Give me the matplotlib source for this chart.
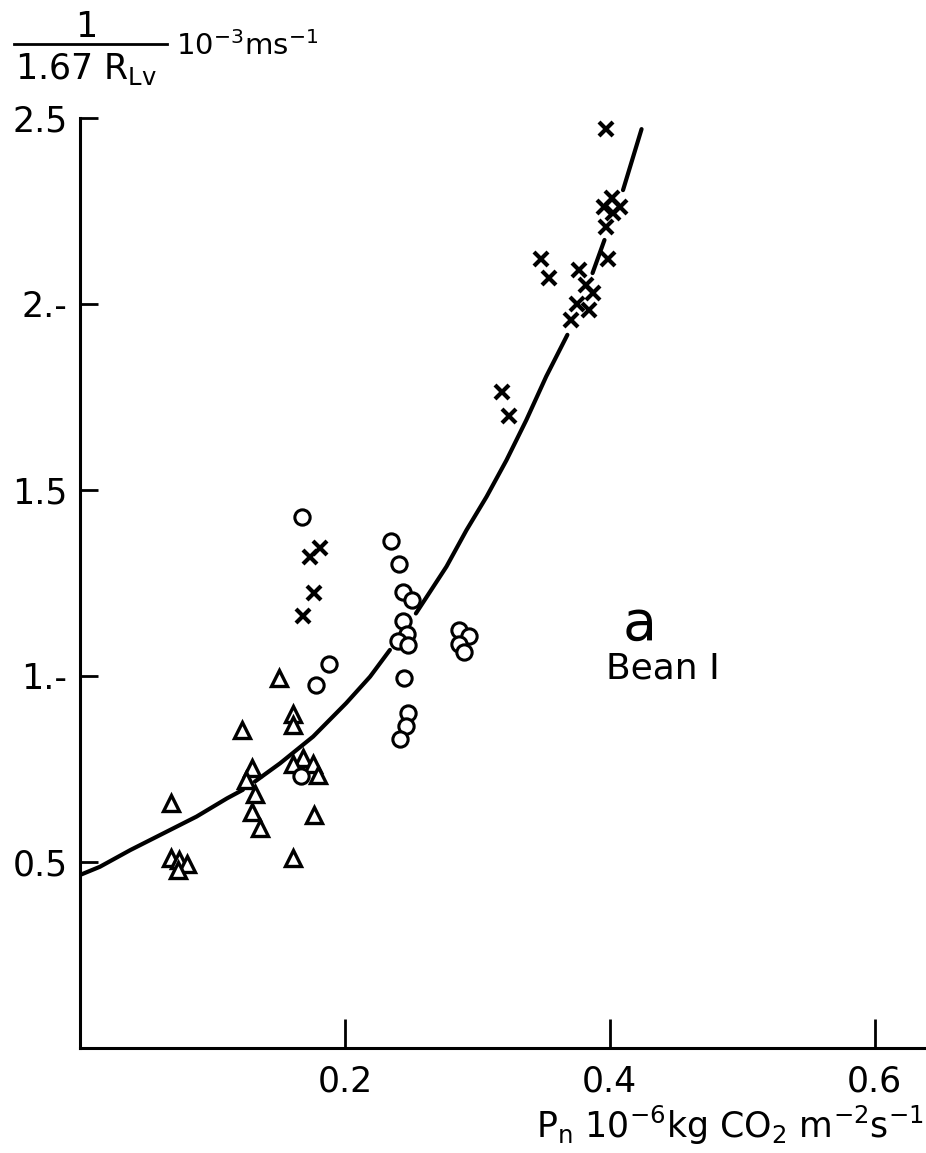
import numpy as np
import matplotlib.pyplot as plt
from matplotlib.lines import Line2D

# crosses
cross_x = [0.3975, 0.402, 0.396, 0.4075, 0.4025, 0.3975, 0.399, 0.348, 0.354, 0.377,
           0.382, 0.387, 0.375, 0.384, 0.371, 0.3185, 0.324, 0.181, 0.174, 0.1766, 0.168]
cross_y = [2.47, 2.284, 2.26, 2.26, 2.245, 2.208, 2.12, 2.12, 2.07, 2.09,
           2.05, 2.03, 2.00, 1.985, 1.957, 1.763, 1.70, 1.343, 1.321, 1.224, 1.161]

# open circles
circ_x = [0.1678, 0.188, 0.178, 0.1672, 0.235, 0.2405, 0.244, 0.251, 0.244, 0.247,
          0.240, 0.248, 0.245, 0.248, 0.2465, 0.2415, 0.286, 0.294, 0.286, 0.290]
circ_y = [1.428, 1.031, 0.976, 0.731, 1.363, 1.301, 1.225, 1.204, 1.149, 1.113,
          1.095, 1.083, 0.994, 0.901, 0.866, 0.830, 1.124, 1.108, 1.085, 1.064]

# open triangles
tri_x = [0.150, 0.161, 0.161, 0.122, 0.1296, 0.125, 0.132, 0.130, 0.136, 0.0687,
         0.0687, 0.0747, 0.081, 0.0737, 0.168, 0.1605, 0.176, 0.180, 0.177, 0.1605]
tri_y = [0.994, 0.898, 0.868, 0.855, 0.7535, 0.720, 0.683, 0.635, 0.592, 0.658,
         0.51, 0.505, 0.495, 0.478, 0.779, 0.763, 0.763, 0.734, 0.626, 0.51]

# hand drawn curve (nan = pen lifted)
curve_x = [0.0, 0.015, 0.038, 0.063, 0.088, 0.111, 0.123, np.nan,
           0.132, 0.151, 0.176, 0.201, 0.219, 0.234, np.nan,
           0.2536, 0.2767, 0.2918, 0.307, 0.322, 0.337, 0.352, 0.368, np.nan,
           0.387, 0.396, np.nan, 0.410, 0.424]
curve_y = [0.465, 0.487, 0.532, 0.577, 0.622, 0.671, 0.694, np.nan,
           0.716, 0.765, 0.837, 0.927, 0.998, 1.07, np.nan,
           1.168, 1.294, 1.392, 1.482, 1.58, 1.688, 1.805, 1.917, np.nan,
           2.083, 2.172, np.nan, 2.306, 2.47]

yticks = [0.5, 1.0, 1.5, 2.0, 2.5]
ytick_labels = ["0.5", "1.-", "1.5", "2.-", "2.5"]
xticks = [0.2, 0.4, 0.6]
xtick_labels = ["0.2", "0.4", "0.6"]

W, H = 926, 1153


def fx(px):
    return px / W


def fy(py):
    return 1 - py / H


def main():
    fig = plt.figure(figsize=(9.26, 11.53), dpi=100)
    ax = fig.add_axes([0.0864, 0.0911, 0.9125, 0.8066])

    ax.plot(curve_x, curve_y, color="black", lw=3, solid_capstyle="round")
    ax.plot(tri_x, tri_y, ls="none", marker="^", ms=11, mfc="white",
            mec="black", mew=2.4)
    ax.plot(circ_x, circ_y, ls="none", marker="o", ms=11, mfc="white",
            mec="black", mew=2.2)
    ax.plot(cross_x, cross_y, ls="none", marker="x", ms=10, mec="black", mew=3)

    ax.set_xlim(0, 0.638)
    ax.set_ylim(0, 2.5)
    ax.spines["top"].set_visible(False)
    ax.spines["right"].set_visible(False)
    for s in ["left", "bottom"]:
        ax.spines[s].set_linewidth(2.2)

    ax.set_xticks(xticks)
    ax.set_xticklabels(xtick_labels)
    ax.set_yticks(yticks)
    ax.set_yticklabels(ytick_labels)
    ax.tick_params(axis="x", direction="in", length=21, width=2, pad=12, labelsize=25)
    ax.tick_params(axis="y", direction="in", length=13, width=2, pad=9, labelsize=25)

    ax.text(0.4226, 1.137, "a", fontsize=40, ha="center", va="center")
    ax.text(0.44, 1.02, "Bean I", fontsize=26, ha="center", va="center")

    # y axis unit written as a fraction at the top left
    fig.text(fx(86), fy(27), "1", fontsize=25, ha="center", va="center")
    fig.add_artist(Line2D([fx(14), fx(167)], [fy(44), fy(44)], color="black",
                          lw=2, transform=fig.transFigure))
    fig.text(fx(86), fy(79), r"1.67 R$_\mathregular{Lv}$", fontsize=25,
             ha="center", va="baseline")
    fig.text(fx(176), fy(55), r"10$^\mathregular{-3}$ms$^\mathregular{-1}$",
             fontsize=21, ha="left", va="baseline")

    fig.text(0.998, 0.024,
             r"P$_\mathregular{n}$ 10$^\mathregular{-6}$kg CO$_\mathregular{2}$ m$^\mathregular{-2}$s$^\mathregular{-1}$",
             fontsize=25, ha="right", va="center")

    fig.savefig("out.png", dpi=100)


if __name__ == "__main__":
    main()
